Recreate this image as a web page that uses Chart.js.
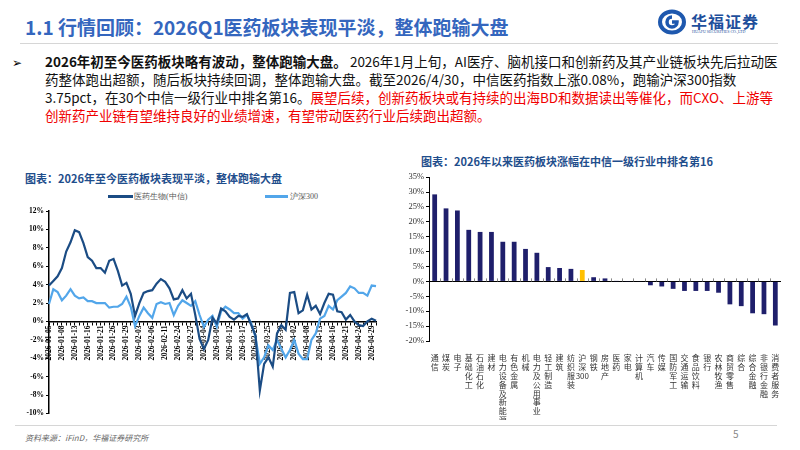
<!DOCTYPE html>
<html>
<head>
<meta charset="utf-8">
<script src="https://cdn.jsdelivr.net/npm/chart.js@4.4.1/dist/chart.umd.min.js"></script>
<style>
    body { margin: 0; background: #fff; }
    #page { position: relative; width: 800px; height: 450px; overflow: hidden; font-family: "Noto Sans CJK SC", sans-serif; }
    .abs { position: absolute; white-space: nowrap; }
    #title { left: 25px; top: 13px; font-size: 19px; font-weight: bold; color: #3466BE; }
    #hr1 { left: 20px; top: 43px; width: 758px; height: 1px; background: #d6d6d6; }
    #bullet { left: 12px; top: 53px; font-size: 12px; color: #000; }
    #para { left: 45px; top: 52px; font-size: 13.5px; line-height: 18px; color: #111; }
    #para b { font-weight: bold; }
    #para .red { color: #F00000; }
    .ctitle { font-size: 11px; font-weight: bold; color: #1F4E8C; }
    .leg { font-family: "Liberation Serif", serif; font-size: 8px; color: #555; }
    .legline { position: absolute; height: 3px; }
    #hr2 { left: 15px; top: 425px; width: 762px; height: 1px; background: #d6d6d6; }
    #src { left: 25px; top: 432px; font-size: 8px; font-style: italic; color: #666; }
    #pnum { left: 733px; top: 426px; font-size: 10px; color: #888; }
</style>
</head>
<body>
<div id="page">
    <div class="abs" id="title">1.1 行情回顾：2026Q1医药板块表现平淡，整体跑输大盘</div>
    <svg class="abs" style="left:658px;top:9px" width="30" height="26" viewBox="0 0 30 26">
        <ellipse cx="14" cy="13" rx="12" ry="10.5" fill="none" stroke="#1E58AE" stroke-width="4"/>
        <path d="M14 8 A5 5 0 1 0 19 13 L14 13" fill="none" stroke="#1E58AE" stroke-width="3.5"/>
    </svg>
    <div class="abs" style="left:691px;top:9px;font-size:16px;font-weight:bold;color:#1E4F9C;font-family:'Noto Sans CJK SC';letter-spacing:1px">华福证券</div>
    <div class="abs" style="left:692px;top:29px;font-size:4px;color:#1E4F9C;font-family:'Liberation Serif'">HUAFU SECURITIES CO.,LTD</div>
    <div class="abs" id="hr1"></div>

    <div class="abs" id="bullet">➢</div>
    <div class="abs" id="para"><b>2026年初至今医药板块略有波动，整体跑输大盘。</b> 2026年1月上旬，AI医疗、脑机接口和创新药及其产业链板块先后拉动医<br>药整体跑出超额，随后板块持续回调，整体跑输大盘。截至2026/4/30，中信医药指数上涨0.08%，跑输沪深300指数<br>3.75pct，在30个中信一级行业中排名第16。<span class="red">展望后续，创新药板块或有持续的出海BD和数据读出等催化，而CXO、上游等<br>创新药产业链有望维持良好的业绩增速，有望带动医药行业后续跑出超额。</span></div>

    <div class="abs ctitle" style="left:25px;top:170px">图表：2026年至今医药板块表现平淡，整体跑输大盘</div>
    <div class="legline" style="left:108px;top:195px;width:25px;background:#1B4C84"></div>
    <div class="abs leg" style="left:134px;top:191px">医药生物(中信)</div>
    <div class="legline" style="left:265px;top:195px;width:23px;background:#52A6EA"></div>
    <div class="abs leg" style="left:290px;top:191px">沪深300</div>
    <div class="abs" style="left:0px;top:200px;width:386px;height:220px"><canvas id="lineChart"></canvas></div>

    <div class="abs ctitle" style="left:421px;top:153px">图表：2026年以来医药板块涨幅在中信一级行业中排名第16</div>
    <div class="abs" style="left:400px;top:170px;width:390px;height:250px"><canvas id="barChart"></canvas></div>

    <div class="abs" id="hr2"></div>
    <div class="abs" id="src">资料来源：iFinD，华福证券研究所</div>
    <div class="abs" id="pnum">5</div>
</div>

<script>
// data
const dates = [
    "2026-01-05", "2026-01-06", "2026-01-07", "2026-01-08", "2026-01-09", "2026-01-12", "2026-01-13", "2026-01-14",
    "2026-01-15", "2026-01-16", "2026-01-19", "2026-01-20", "2026-01-21", "2026-01-22", "2026-01-23", "2026-01-26",
    "2026-01-27", "2026-01-28", "2026-01-29", "2026-01-30", "2026-02-02", "2026-02-03", "2026-02-04", "2026-02-05",
    "2026-02-06", "2026-02-09", "2026-02-10", "2026-02-11", "2026-02-12", "2026-02-13", "2026-02-24", "2026-02-25",
    "2026-02-26", "2026-02-27", "2026-03-02", "2026-03-03", "2026-03-04", "2026-03-05", "2026-03-06", "2026-03-09",
    "2026-03-10", "2026-03-11", "2026-03-12", "2026-03-13", "2026-03-16", "2026-03-17", "2026-03-18", "2026-03-19",
    "2026-03-20", "2026-03-23", "2026-03-24", "2026-03-25", "2026-03-26", "2026-03-27", "2026-03-30", "2026-03-31",
    "2026-04-01", "2026-04-02", "2026-04-03", "2026-04-07", "2026-04-08", "2026-04-09", "2026-04-10", "2026-04-13",
    "2026-04-14", "2026-04-15", "2026-04-16", "2026-04-17", "2026-04-20", "2026-04-21", "2026-04-22", "2026-04-23",
    "2026-04-24", "2026-04-27", "2026-04-28", "2026-04-29", "2026-04-30"
]
const pharma = [
    3.9, 4.4, 4.9, 5.8, 7.6, 8.6, 9.9, 9.7, 8.5, 7.0, 6.6, 5.8, 5.8, 5.3, 6.6, 6.8,
    5.5, 3.9, 4.2, 3.0, 0.6, 2.0, 3.1, 3.3, 3.4, 4.1, 4.6, 4.3, 3.6, 2.4, 2.5, 3.4,
    2.5, 3.0, 0.7, -1.9, -3.0, -2.0, 0.4, -0.2, 1.4, 1.1, 0.5, 0.2, 0.6, 0.5, 0.8, -0.4,
    -1.5, -7.5, -4.6, -3.9, -4.9, -1.3, -0.4, -0.9, 3.1, 3.2, 0.9, 1.2, 2.9, 1.3, 1.7, 0.8,
    2.0, 3.0, 2.9, 1.1, 1.0, 0.2, 0.7, 0.0, -0.4, -0.5, 0.0, 0.3, 0.08
]
const hs300 = [
    1.9, 3.5, 3.2, 2.3, 2.8, 3.5, 2.8, 2.5, 2.6, 2.2, 2.2, 2.0, 2.0, 2.0, 1.5, 1.6,
    1.6, 1.9, 2.7, 1.6, -0.5, 0.6, 1.5, 0.9, 0.4, 1.9, 2.1, 1.9, 2.0, 0.7, 1.7, 2.3,
    2.0, 1.7, 2.2, 0.7, -0.6, 0.2, 0.6, -0.6, 1.1, 1.6, 1.3, 0.9, 0.9, 0.3, 0.7, -0.2,
    -1.7, -4.6, -3.9, -2.6, -3.1, -2.0, -3.0, -3.9, -3.1, -2.0, -3.5, -4.1, -4.1, -2.0, -1.3, 0.3,
    0.6, 1.7, 1.3, 2.3, 2.7, 3.1, 3.8, 3.6, 3.1, 3.1, 2.8, 3.9, 3.83
]
const industries = [
    "通信", "煤炭", "电子", "基础化工", "石油石化", "建材", "电力设备及新能源", "有色金属",
    "机械", "电力及公用事业", "轻工制造", "建筑", "纺织服装", "沪深300", "钢铁", "房地产",
    "医药", "家电", "计算机", "汽车", "传媒", "国防军工", "交通运输", "食品饮料",
    "银行", "农林牧渔", "商贸零售", "综合", "综合金融", "非银行金融", "消费者服务"
]
const ytdChange = [
    29.2, 24.5, 23.8, 17.3, 16.6, 16.6, 13.3, 13.3,
    10.9, 9.6, 4.8, 4.5, 4.2, 3.83, 1.4, 1.0,
    0.08, -0.1, -0.2, -1.3, -1.7, -2.5, -3.2, -3.2,
    -3.2, -3.8, -7.7, -8.3, -10.7, -11.0, -14.8
]
const highlight = "沪深300"

function main() {
    buildLineChart("lineChart")
    buildBarChart("barChart")
}

function buildLineChart(canvasId) {
    const ctx = document.getElementById(canvasId)
    new Chart(ctx, {
        type: 'line',
        data: {
            labels: dates,
            datasets: [
                { label: '医药生物(中信)', data: pharma, borderColor: '#1B4C84', borderWidth: 2.2 },
                { label: '沪深300', data: hs300, borderColor: '#52A6EA', borderWidth: 2.2 }
            ]
        },
        options: {
            animation: false,
            responsive: true,
            maintainAspectRatio: false,
            layout: { padding: { top: 11, bottom: 1, right: 6 } },
            elements: { point: { radius: 0 }, line: { tension: 0 } },
            plugins: { legend: { display: false }, tooltip: { enabled: false } },
            scales: {
                x: {
                    position: { y: 0 },
                    offset: false,
                    grid: { drawOnChartArea: false, tickLength: 3, color: '#000' },
                    border: { color: '#000', width: 1.5 },
                    ticks: {
                        autoSkip: false, maxRotation: 90, minRotation: 90, padding: 1,
                        color: '#000',
                        font: { family: 'Liberation Serif', size: 7.5, weight: 'bold' },
                        callback: (v, i) => i % 3 === 0 ? dates[i] : ''
                    }
                },
                y: {
                    min: -10, max: 12,
                    afterFit: (scale) => { scale.width = 49 },
                    grid: { drawOnChartArea: false, tickLength: 3, color: '#000' },
                    border: { color: '#000', width: 1.5 },
                    ticks: {
                        stepSize: 2, padding: 2, color: '#000',
                        font: { family: 'Liberation Serif', size: 7.5, weight: 'bold' },
                        callback: (v) => v + '%'
                    }
                }
            }
        }
    })
}

// small marks between categories on the zero line
const zeroTicks = {
    id: 'zeroTicks',
    afterDatasetsDraw(chart) {
        const x = chart.scales.x, y = chart.scales.y, c = chart.ctx
        const zero = y.getPixelForValue(0)
        const step = x.getPixelForValue(1) - x.getPixelForValue(0)
        c.save()
        c.strokeStyle = '#888'
        c.lineWidth = 1
        for (let i = 0; i < industries.length - 1; i++) {
            const px = Math.round(x.getPixelForValue(i) + step / 2) + 0.5
            c.beginPath()
            c.moveTo(px, zero)
            c.lineTo(px, zero - 3)
            c.stroke()
        }
        c.restore()
    }
}

// vertical label: one character per line, digits kept together
function stackLabel(s) {
    return s.match(/\d+|./g)
}

function buildBarChart(canvasId) {
    const ctx = document.getElementById(canvasId)
    new Chart(ctx, {
        type: 'bar',
        data: {
            labels: industries.map(stackLabel),
            datasets: [{
                data: ytdChange,
                backgroundColor: industries.map(s => s === highlight ? '#FFC000' : '#1F1F6B'),
                barPercentage: 0.42,
                categoryPercentage: 1
            }]
        },
        plugins: [zeroTicks],
        options: {
            animation: false,
            responsive: true,
            maintainAspectRatio: false,
            layout: { padding: { top: 4, right: 9 } },
            plugins: { legend: { display: false }, tooltip: { enabled: false } },
            scales: {
                x: {
                    afterFit: (scale) => { scale.height = 79 },
                    grid: { display: false },
                    border: { display: false },
                    ticks: {
                        autoSkip: false, maxRotation: 0, minRotation: 0, padding: 5,
                        color: '#333',
                        font: { family: 'Noto Sans CJK SC', size: 8, lineHeight: 1.1 }
                    }
                },
                y: {
                    min: -20, max: 35,
                    afterFit: (scale) => { scale.width = 29 },
                    grid: {
                        color: (c) => c.tick && c.tick.value === 0 ? '#000' : 'rgba(0,0,0,0)',
                        tickColor: '#000', tickLength: 3, lineWidth: 1
                    },
                    border: { color: '#000', width: 1 },
                    ticks: {
                        stepSize: 5, padding: 2, color: '#333',
                        font: { family: 'Liberation Serif', size: 8.5 },
                        callback: (v) => v + '%'
                    }
                }
            }
        }
    })
}

// listeners
document.addEventListener("DOMContentLoaded", main)
</script>
</body>
</html>
